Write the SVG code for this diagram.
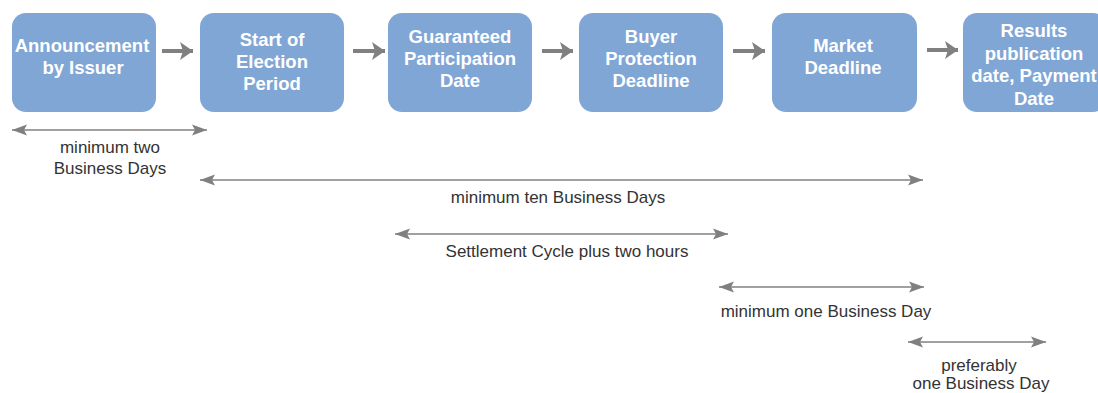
<svg xmlns="http://www.w3.org/2000/svg" width="1098" height="393" viewBox="0 0 1098 393">
<style>
.box{fill:#80A6D6;}
.bt{font-family:"Liberation Sans",Arial,sans-serif;font-weight:bold;font-size:18.5px;fill:#ffffff;text-anchor:middle;}
.lt{font-family:"Liberation Sans",Arial,sans-serif;font-size:17px;fill:#333333;text-anchor:middle;}
.flow{stroke:#808080;stroke-width:4;fill:none;}
.span{stroke:#808080;stroke-width:1.6;fill:none;}
</style>
<defs>
<marker id="fh" markerUnits="userSpaceOnUse" markerWidth="14" markerHeight="20" refX="13" refY="10" orient="auto">
<path d="M0,1 L13,10 L0,19 L3,10 Z" fill="#808080"/>
</marker>
<marker id="sh" markerUnits="userSpaceOnUse" markerWidth="16" markerHeight="12" refX="15" refY="6" orient="auto-start-reverse">
<path d="M0,0.5 L15,6 L0,11.5 L3,6 Z" fill="#808080"/>
</marker>
</defs>
<g id="n1"><rect class="box" x="12" y="13" width="144" height="99" rx="14"/>
<text class="bt" x="82" y="51.5">Announcement</text><text class="bt" x="83" y="73.5">by Issuer</text></g>
<g id="n2"><rect class="box" x="200" y="13" width="144" height="99" rx="14"/>
<text class="bt" x="272" y="45.5">Start of</text><text class="bt" x="272" y="67.5">Election</text><text class="bt" x="272" y="89.5">Period</text></g>
<g id="n3"><rect class="box" x="388" y="13" width="144" height="99" rx="14"/>
<text class="bt" x="460" y="43">Guaranteed</text><text class="bt" x="460" y="65">Participation</text><text class="bt" x="460" y="87">Date</text></g>
<g id="n4"><rect class="box" x="579" y="13" width="144" height="99" rx="14"/>
<text class="bt" x="651" y="43">Buyer</text><text class="bt" x="651" y="65">Protection</text><text class="bt" x="651" y="87">Deadline</text></g>
<g id="n5"><rect class="box" x="772" y="13" width="145" height="99" rx="14"/>
<text class="bt" x="843" y="52">Market</text><text class="bt" x="843" y="74">Deadline</text></g>
<g id="n6"><rect class="box" x="963" y="13" width="144" height="99" rx="14"/>
<text class="bt" x="1034" y="37">Results</text><text class="bt" x="1034" y="59.7">publication</text><text class="bt" x="1034" y="82.4">date, Payment</text><text class="bt" x="1034" y="105">Date</text></g>
<g id="connectors">
<line class="flow" x1="162" y1="51" x2="193" y2="51" marker-end="url(#fh)"/>
<line class="flow" x1="353" y1="51" x2="385" y2="51" marker-end="url(#fh)"/>
<line class="flow" x1="542" y1="51" x2="573" y2="51" marker-end="url(#fh)"/>
<line class="flow" x1="733" y1="51" x2="765" y2="51" marker-end="url(#fh)"/>
<line class="flow" x1="927" y1="50" x2="958" y2="50" marker-end="url(#fh)"/>
<line class="span" x1="12" y1="130" x2="207" y2="130" marker-start="url(#sh)" marker-end="url(#sh)"/>
<line class="span" x1="200" y1="180" x2="923" y2="180" marker-start="url(#sh)" marker-end="url(#sh)"/>
<line class="span" x1="395" y1="234" x2="728" y2="234" marker-start="url(#sh)" marker-end="url(#sh)"/>
<line class="span" x1="719" y1="287" x2="924" y2="287" marker-start="url(#sh)" marker-end="url(#sh)"/>
<line class="span" x1="908" y1="342" x2="1046" y2="342" marker-start="url(#sh)" marker-end="url(#sh)"/>
</g>
<g id="labels">
<text class="lt" x="110" y="153">minimum two</text>
<text class="lt" x="110" y="174">Business Days</text>
<text class="lt" x="558" y="203">minimum ten Business Days</text>
<text class="lt" x="567" y="257">Settlement Cycle plus two hours</text>
<text class="lt" x="826" y="317">minimum one Business Day</text>
<text class="lt" x="979" y="371">preferably</text>
<text class="lt" x="981" y="389">one Business Day</text>
</g>
</svg>
